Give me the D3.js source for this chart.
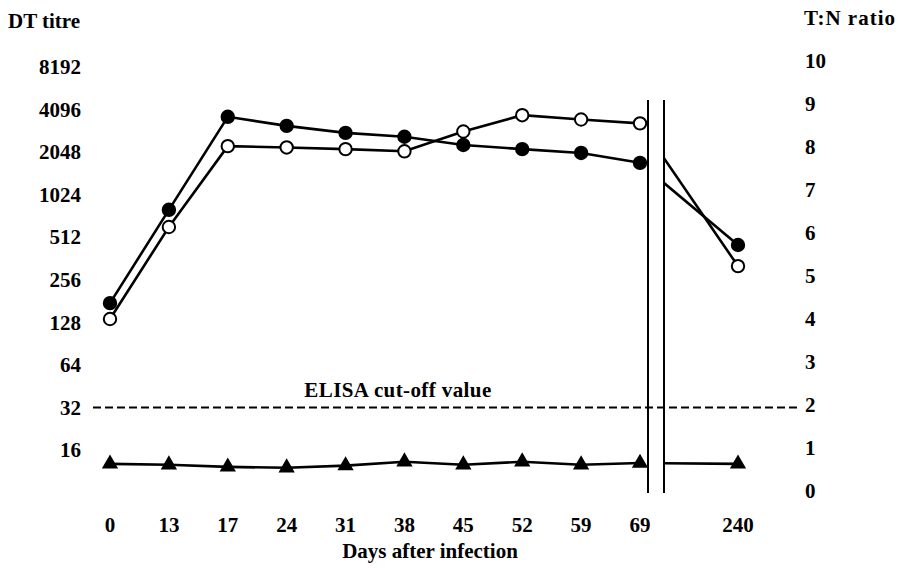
<!DOCTYPE html>
<html>
<head>
<meta charset="utf-8">
<script src="https://cdn.jsdelivr.net/npm/d3@7"></script>
<style>
  html, body { margin: 0; padding: 0; background: #fff; }
  svg text { font-family: "Liberation Serif", "Times New Roman", serif; font-weight: bold; fill: #000; }
</style>
</head>
<body>
<svg id="chart" width="903" height="568"></svg>
<script>
// ---- data ----
const days = ["0", "13", "17", "24", "31", "38", "45", "52", "59", "69"];
const lateDay = "240";
const dtTitre = [175, 800, 3640, 3140, 2800, 2630, 2300, 2150, 2020, 1720];
const dtTitreLate = 451;
const tnRatio = [4.0, 6.14, 8.02, 7.99, 7.95, 7.90, 8.36, 8.74, 8.64, 8.55];
const tnRatioLate = 5.23;
const tnControl = [0.63, 0.61, 0.56, 0.54, 0.59, 0.68, 0.61, 0.68, 0.61, 0.65];
const tnControlLate = 0.63;
const titreTicks = [16, 32, 64, 128, 256, 512, 1024, 2048, 4096, 8192];
const ratioTicks = [0, 1, 2, 3, 4, 5, 6, 7, 8, 9, 10];
const cutoffTitre = 32;
const cutoffLabel = "ELISA cut-off value";

// ---- scales ----
const svg = d3.select("#chart");
const x = d3.scalePoint().domain(days).range([110, 640]);
const xLate = d3.scalePoint().domain([lateDay]).range([690, 786]);
const yTitre = d3.scaleLog().base(2).domain([16, 8192]).range([450, 67]);
const yRatio = d3.scaleLinear().domain([0, 10]).range([491, 61]);

const breakL = x("69") + 8, breakR = x("69") + 24;

// ---- axes (labels only) ----
const fontSize = 21;
const leftAxis = svg.append("g").attr("transform", "translate(81,0)")
  .call(d3.axisLeft(yTitre).tickValues(titreTicks).tickSize(0).tickPadding(0).tickFormat(d3.format("d")));
const rightAxis = svg.append("g").attr("transform", "translate(805,0)")
  .call(d3.axisRight(yRatio).tickValues(ratioTicks).tickSize(0).tickPadding(0).tickFormat(d3.format("d")));
const allDays = days.concat([lateDay]);
const xPos = d => d === lateDay ? xLate(d) : x(d);
const bottomAxis = svg.append("g").attr("transform", "translate(0,525)");
bottomAxis.selectAll("text").data(allDays).join("text")
  .attr("x", d => xPos(d)).attr("y", 0).attr("dy", "0.35em")
  .attr("text-anchor", "middle").attr("font-size", fontSize).text(d => d);

[leftAxis, rightAxis].forEach(g => {
  g.select(".domain").remove();
  g.selectAll("text").attr("font-size", fontSize)
    .style("font-family", '"Liberation Serif", serif').style("font-weight", "bold").attr("fill", "#000");
});

svg.append("text").attr("x", 8).attr("y", 28).attr("font-size", fontSize).text("DT titre");
svg.append("text").attr("x", 804).attr("y", 25).attr("font-size", fontSize)
  .attr("letter-spacing", 1).text("T:N ratio");
svg.append("text").attr("x", 430).attr("y", 558).attr("text-anchor", "middle").attr("font-size", fontSize).text("Days after infection");

// ---- cut-off line ----
svg.append("line")
  .attr("x1", 93).attr("x2", 798)
  .attr("y1", yTitre(cutoffTitre)).attr("y2", yTitre(cutoffTitre))
  .attr("stroke", "#000").attr("stroke-width", 2).attr("stroke-dasharray", "8,4");
svg.append("text").attr("x", 398).attr("y", yTitre(cutoffTitre) - 10)
  .attr("text-anchor", "middle").attr("font-size", fontSize).attr("letter-spacing", 0.4).text(cutoffLabel);

// ---- axis break ----
[breakL, breakR].forEach(bx => {
  svg.append("line").attr("x1", bx).attr("x2", bx).attr("y1", 100).attr("y2", 493)
    .attr("stroke", "#000").attr("stroke-width", 2);
});
svg.append("defs").append("clipPath").attr("id", "late")
  .append("rect").attr("x", breakR).attr("y", 0).attr("width", 903 - breakR).attr("height", 568);

// ---- series ----
const series = [
  { vals: dtTitre, late: dtTitreLate, y: yTitre, mark: "filled" },
  { vals: tnRatio, late: tnRatioLate, y: yRatio, mark: "open" },
  { vals: tnControl, late: tnControlLate, y: yRatio, mark: "triangle" }
];

const lineGen = d3.line();
series.forEach(s => {
  const pts = days.map((d, i) => [x(d), s.y(s.vals[i])]);
  const latePt = [xLate(lateDay), s.y(s.late)];
  svg.append("path").attr("d", lineGen(pts))
    .attr("fill", "none").attr("stroke", "#000").attr("stroke-width", 2.6);
  svg.append("path").attr("d", lineGen([pts[pts.length - 1], latePt]))
    .attr("clip-path", "url(#late)")
    .attr("fill", "none").attr("stroke", "#000").attr("stroke-width", 2.6);
  const all = pts.concat([latePt]);
  if (s.mark === "triangle") {
    svg.append("g").selectAll("path").data(all).join("path")
      .attr("transform", p => `translate(${p[0]},${p[1]})`)
      .attr("d", d3.symbol().type(d3.symbolTriangle).size(115))
      .attr("fill", "#000");
  } else {
    svg.append("g").selectAll("circle").data(all).join("circle")
      .attr("cx", p => p[0]).attr("cy", p => p[1]).attr("r", 6.2)
      .attr("fill", s.mark === "filled" ? "#000" : "#fff")
      .attr("stroke", "#000").attr("stroke-width", 2);
  }
});
</script>
</body>
</html>
